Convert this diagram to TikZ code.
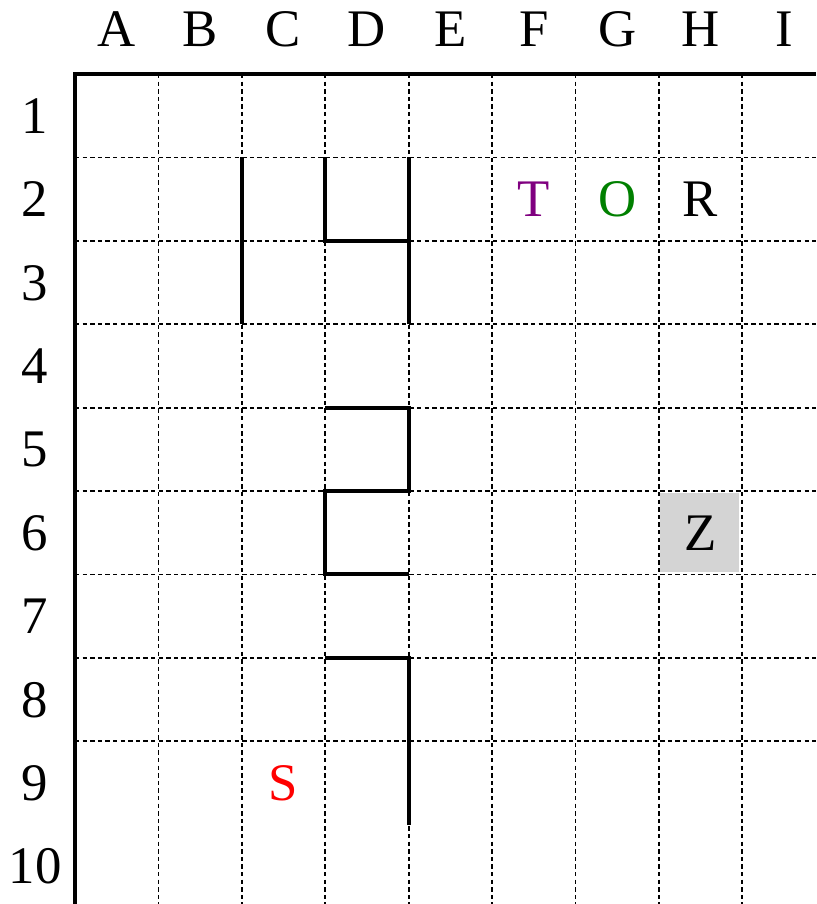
\documentclass[tikz,border=0pt]{standalone}
\usepackage{fontspec}
\setmainfont{Liberation Serif}
\begin{document}
\begin{tikzpicture}[x=0.5pt,y=-0.5pt,
  lbl/.style={anchor=base,inner sep=0pt,font=\fontsize{26.4}{30}\selectfont},
  grid line/.style={line width=0.9pt,dash pattern=on 2.2pt off 1.6pt},
  border/.style={line width=2.2pt},
  wall/.style={line width=2pt},
  shade/.style={fill=black!17}]
\useasboundingbox (0,0) rectangle (816,904);
\def\cw{83.4}
% shaded cell H6
\fill[shade] (660,493) rectangle (739,572);
% dashed grid
\foreach \i in {1,...,8}{
  \draw[grid line] ({75+\i*\cw},74) -- ({75+\i*\cw},904);
  \draw[grid line] (75,{74+\i*\cw}) -- (816,{74+\i*\cw});
}
% border
\draw[border] (75,904) -- (75,74) -- (816,74);
% column labels
\foreach \l [count=\i from 0] in {A,B,C,D,E,F,G,H,I}{
  \node[lbl] (col\l) at ({75+(\i+0.5)*\cw},47) {\l};
}
% row labels
\foreach \r in {1,...,10}{
  \node[lbl] (row\r) at (35,{74+(\r-0.5)*\cw+17.5}) {\r};
}
% walls
\draw[wall] (241.8,157.4) -- (241.8,324.2);
\draw[wall] (325.2,157.4) -- (325.2,240.8) -- (408.6,240.8);
\draw[wall] (408.6,157.4) -- (408.6,324.2);
\draw[wall] (325.2,407.6) -- (408.6,407.6) -- (408.6,491) -- (325.2,491) -- (325.2,574.4) -- (408.6,574.4);
\draw[wall] (325.2,657.8) -- (408.6,657.8) -- (408.6,824.6);
% cell letters
\node[lbl,text={rgb,255:red,128;green,0;blue,128}] (T) at ({75+5.5*\cw},{74+1.5*\cw+17.5}) {T};
\node[lbl,text={rgb,255:red,0;green,128;blue,0}] (O) at ({75+6.5*\cw},{74+1.5*\cw+17.5}) {O};
\node[lbl] (R) at ({75+7.5*\cw},{74+1.5*\cw+17.5}) {R};
\node[lbl] (Z) at ({75+7.5*\cw},{74+5.5*\cw+17.5}) {Z};
\node[lbl,text=red] (S) at ({75+2.5*\cw},{74+8.5*\cw+17.5}) {S};
\end{tikzpicture}
\end{document}
